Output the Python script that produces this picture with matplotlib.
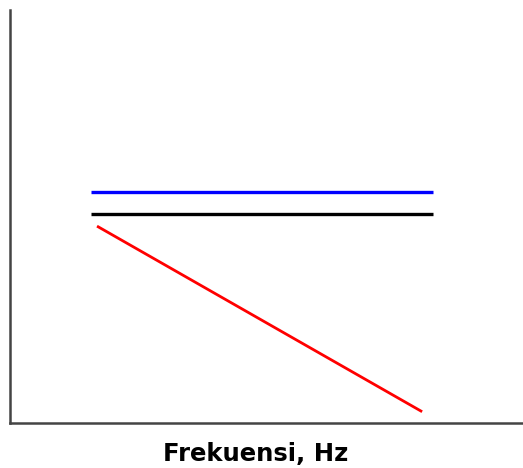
import matplotlib
matplotlib.use("Agg")
import matplotlib.pyplot as plt

# line data (arbitrary units)
x_flat = [1.58, 8.25]
blue_y = [5.59, 5.59]
black_y = [5.06, 5.06]
red_x = [1.72, 8.01]
red_y = [4.75, 0.29]

fig = plt.figure(figsize=(5.23, 4.68), dpi=100)
ax = fig.add_axes([10 / 523, 45 / 468, 513 / 523, 413 / 468])

ax.plot(x_flat, blue_y, color="#0000ff", lw=2.4, solid_capstyle="butt")
ax.plot(x_flat, black_y, color="black", lw=2.4, solid_capstyle="butt")
ax.plot(red_x, red_y, color="#ff0000", lw=2.0)

ax.set_xlim(0, 10)
ax.set_ylim(0, 10)
ax.set_xticks([])
ax.set_yticks([])
for side in ("top", "right"):
    ax.spines[side].set_visible(False)
for side in ("left", "bottom"):
    ax.spines[side].set_color("#444444")
    ax.spines[side].set_linewidth(1.8)

fig.text(256 / 523, 1 - 454 / 468, "Frekuensi, Hz", ha="center", va="center",
         fontsize=17.5, fontweight="heavy", family="DejaVu Sans")

fig.savefig("out.png", dpi=100)
